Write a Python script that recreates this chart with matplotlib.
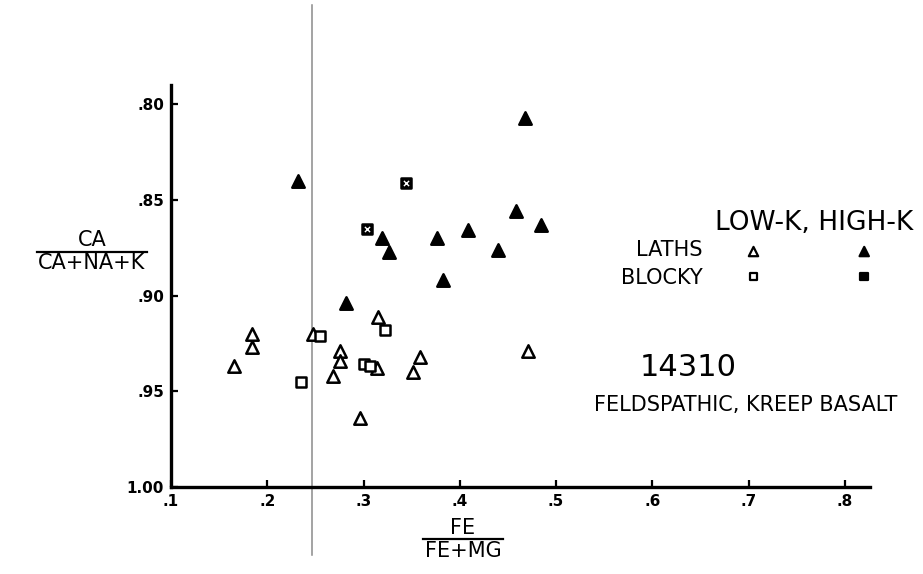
import matplotlib.pyplot as plt
from matplotlib.lines import Line2D

# FE/(FE+MG) and CA/(CA+NA+K)
low_k_laths_x = [0.165, 0.184, 0.184, 0.247, 0.315, 0.276, 0.276, 0.268, 0.314, 0.296, 0.359, 0.351, 0.471]
low_k_laths_y = [0.937, 0.920, 0.927, 0.920, 0.911, 0.929, 0.934, 0.942, 0.938, 0.964, 0.932, 0.940, 0.929]

high_k_laths_x = [0.232, 0.468, 0.458, 0.484, 0.408, 0.376, 0.319, 0.326, 0.440, 0.383, 0.282]
high_k_laths_y = [0.840, 0.807, 0.856, 0.863, 0.866, 0.870, 0.870, 0.877, 0.876, 0.892, 0.904]

low_k_blocky_x = [0.322, 0.255, 0.300, 0.307, 0.235]
low_k_blocky_y = [0.918, 0.921, 0.936, 0.937, 0.945]

high_k_blocky_x = [0.344, 0.304]
high_k_blocky_y = [0.841, 0.865]

x_ticks = [0.1, 0.2, 0.3, 0.4, 0.5, 0.6, 0.7, 0.8]
x_tick_labels = [".1", ".2", ".3", ".4", ".5", ".6", ".7", ".8"]
y_ticks = [0.80, 0.85, 0.90, 0.95, 1.00]
y_tick_labels = [".80", ".85", ".90", ".95", "1.00"]

W, H = 923, 574
FONT = "DejaVu Sans"


def px(x, y):
    return x / W, 1 - y / H


def fraction(fig, cx, top, bottom, y_top, y_line, y_bot, size, half_width):
    fig.text(*px(cx, y_top), top, ha="center", va="center", fontsize=size, family=FONT)
    fig.text(*px(cx, y_bot), bottom, ha="center", va="center", fontsize=size, family=FONT)
    x0, yl = px(cx - half_width, y_line)
    x1, _ = px(cx + half_width, y_line)
    fig.add_artist(Line2D([x0, x1], [yl, yl], color="black", lw=1.6, transform=fig.transFigure))


def main():
    fig = plt.figure(figsize=(W / 100, H / 100), dpi=100)
    ax = fig.add_axes([171 / W, 1 - 487 / H, (870 - 171) / W, (487 - 85) / H])

    ax.set_xlim(0.1, 0.826)
    ax.set_ylim(1.0, 0.79)

    for side in ("top", "right"):
        ax.spines[side].set_visible(False)
    for side in ("left", "bottom"):
        ax.spines[side].set_linewidth(2.4)

    ax.set_xticks(x_ticks)
    ax.set_xticklabels(x_tick_labels)
    ax.set_yticks(y_ticks)
    ax.set_yticklabels(y_tick_labels)
    ax.tick_params(direction="in", length=5, width=1.6, labelsize=11, pad=5)
    for lab in ax.get_xticklabels() + ax.get_yticklabels():
        lab.set_fontweight("bold")
        lab.set_family(FONT)

    # the thin vertical rule that runs past the frame
    ax.axvline(0.246, ymin=-0.17, ymax=1.2, color="#8a8a8a", lw=1.1, clip_on=False, zorder=1)

    tri = dict(marker="^", s=80, linewidths=1.8, edgecolors="black", zorder=3)
    sq = dict(marker="s", s=55, linewidths=1.8, edgecolors="black", zorder=3)

    ax.scatter(low_k_laths_x, low_k_laths_y, facecolors="white", **tri)
    ax.scatter(high_k_laths_x, high_k_laths_y, facecolors="black", **tri)
    ax.scatter(low_k_blocky_x, low_k_blocky_y, facecolors="white", **sq)
    ax.scatter(high_k_blocky_x, high_k_blocky_y, facecolors="black", **sq)
    ax.scatter(high_k_blocky_x, high_k_blocky_y, marker="x", s=14, c="white", linewidths=1, zorder=4)

    # legend block
    fig.text(*px(814, 223), "LOW-K, HIGH-K", ha="center", va="center", fontsize=19, family=FONT)
    fig.text(*px(702, 250), "LATHS", ha="right", va="center", fontsize=15, family=FONT)
    fig.text(*px(703, 278), "BLOCKY", ha="right", va="center", fontsize=15, family=FONT)
    leg_x = [0.705, 0.820]
    ax.scatter(leg_x, [0.877, 0.877], marker="^", s=45, linewidths=1.6, edgecolors="black",
               facecolors=["white", "black"], clip_on=False, zorder=3)
    ax.scatter(leg_x, [0.890, 0.890], marker="s", s=30, linewidths=1.6, edgecolors="black",
               facecolors=["white", "black"], clip_on=False, zorder=3)

    fig.text(*px(688, 368), "14310", ha="center", va="center", fontsize=22, family=FONT)
    fig.text(*px(746, 405), "FELDSPATHIC, KREEP BASALT", ha="center", va="center",
             fontsize=15, family=FONT)

    fraction(fig, 92, "CA", "CA+NA+K", 240, 252, 263, 15, 55)
    fraction(fig, 463, "FE", "FE+MG", 528, 539, 551, 15, 40)

    fig.savefig("out.png", dpi=100)


if __name__ == "__main__":
    main()
